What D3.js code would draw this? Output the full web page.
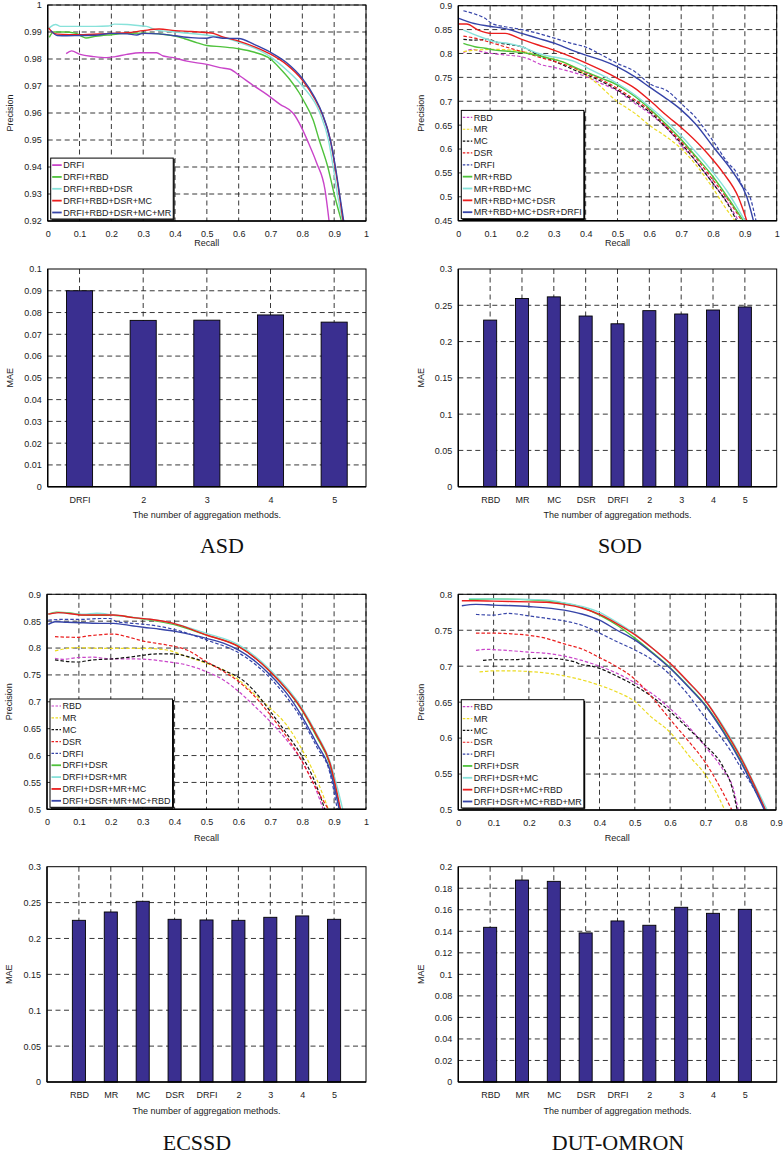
<!DOCTYPE html>
<html><head><meta charset="utf-8">
<script src="https://cdn.jsdelivr.net/npm/d3@7"></script>
<style>
body{margin:0;background:#fff}
svg{display:block}
</style>
</head><body>
<svg id="chart" width="784" height="1156"></svg>
<script>
// ---------------- DATA ----------------
// Tick values
const asdPrXTicks = [0,0.1,0.2,0.3,0.4,0.5,0.6,0.7,0.8,0.9,1];
const asdPrYTicks = [0.92,0.93,0.94,0.95,0.96,0.97,0.98,0.99,1];
const sodPrXTicks = [0,0.1,0.2,0.3,0.4,0.5,0.6,0.7,0.8,0.9,1];
const sodPrYTicks = [0.45,0.5,0.55,0.6,0.65,0.7,0.75,0.8,0.85,0.9];
const ecssdPrXTicks = [0,0.1,0.2,0.3,0.4,0.5,0.6,0.7,0.8,0.9,1];
const ecssdPrYTicks = [0.5,0.55,0.6,0.65,0.7,0.75,0.8,0.85,0.9];
const dutPrXTicks = [0,0.1,0.2,0.3,0.4,0.5,0.6,0.7,0.8,0.9];
const dutPrYTicks = [0.5,0.55,0.6,0.65,0.7,0.75,0.8];
const asdMaeTicks = [0,0.01,0.02,0.03,0.04,0.05,0.06,0.07,0.08,0.09,0.1];
const sodMaeTicks = [0,0.05,0.1,0.15,0.2,0.25,0.3];
const ecssdMaeTicks = [0,0.05,0.1,0.15,0.2,0.25,0.3];
const dutMaeTicks = [0,0.02,0.04,0.06,0.08,0.1,0.12,0.14,0.16,0.18,0.2];

// MAE bar data
const asdMaeCats = ["DRFI","2","3","4","5"];
const asdMae = [0.0900,0.0764,0.0765,0.0789,0.0756];
const maeCats = ["RBD","MR","MC","DSR","DRFI","2","3","4","5"];
const sodMae = [0.2296,0.2593,0.2616,0.2352,0.2245,0.2426,0.2380,0.2435,0.2477];
const ecssdMae = [0.2253,0.2369,0.2518,0.2267,0.2258,0.2253,0.2295,0.2314,0.2267];
const dutMae = [0.1437,0.1876,0.1864,0.1385,0.1496,0.1456,0.1623,0.1567,0.1604];

// ASD precision-recall [recall, precision]
const asd_DRFI = [[0.058,0.9820],[0.075,0.9830],[0.102,0.9817],[0.144,0.9809],[0.185,0.9805],[0.212,0.9809],[0.248,0.9817],[0.290,0.9823],[0.342,0.9823],[0.363,0.9811],[0.395,0.9805],[0.437,0.9792],[0.500,0.9780],[0.541,0.9768],[0.573,0.9762],[0.604,0.9737],[0.646,0.9702],[0.688,0.9669],[0.730,0.9632],[0.772,0.9598],[0.798,0.9545],[0.819,0.9490],[0.845,0.9415],[0.871,0.9317],[0.884,0.9200]];
const asd_RBD2 = [[0.005,0.9880],[0.018,0.9900],[0.05,0.9900],[0.09,0.9895],[0.105,0.9885],[0.12,0.9878],[0.15,0.9884],[0.2,0.9890],[0.25,0.9895],[0.3,0.9896],[0.35,0.9893],[0.4,0.9885],[0.43,0.9875],[0.47,0.9860],[0.5,0.9850],[0.55,0.9845],[0.6,0.9838],[0.65,0.9825],[0.7,0.9800],[0.73,0.9765],[0.76,0.9725],[0.79,0.9675],[0.803,0.9648],[0.834,0.9574],[0.853,0.9500],[0.880,0.9400],[0.900,0.9300],[0.923,0.9200]];
const asd_DSR3 = [[0.003,0.9912],[0.01,0.9920],[0.025,0.9928],[0.04,0.9921],[0.1,0.9921],[0.15,0.9921],[0.19,0.9922],[0.21,0.9929],[0.25,0.9928],[0.29,0.9923],[0.31,0.9921],[0.34,0.9908],[0.4,0.9900],[0.5,0.9888],[0.55,0.9880],[0.6,0.9862],[0.65,0.9840],[0.7,0.9808],[0.75,0.9760],[0.8,0.9700],[0.855,0.9600],[0.882,0.9500],[0.897,0.9400],[0.910,0.9300],[0.926,0.9200]];
const asd_MC4 = [[0.003,0.9915],[0.015,0.9898],[0.03,0.9892],[0.1,0.9890],[0.2,0.9895],[0.25,0.9897],[0.3,0.9905],[0.35,0.9911],[0.4,0.9905],[0.45,0.9902],[0.5,0.9898],[0.52,0.9895],[0.55,0.9882],[0.6,0.9866],[0.65,0.9845],[0.7,0.9818],[0.75,0.9780],[0.8,0.9722],[0.84,0.9650],[0.861,0.9600],[0.888,0.9500],[0.903,0.9400],[0.916,0.9300],[0.928,0.9200]];
const asd_MR5 = [[0.01,0.9905],[0.03,0.9887],[0.06,0.9886],[0.1,0.9887],[0.15,0.9888],[0.2,0.9895],[0.25,0.9893],[0.28,0.9889],[0.3,0.9895],[0.35,0.9893],[0.4,0.9886],[0.45,0.9879],[0.5,0.9877],[0.52,0.9882],[0.55,0.9877],[0.6,0.9876],[0.65,0.9853],[0.7,0.9825],[0.75,0.9787],[0.8,0.9728],[0.84,0.9655],[0.862,0.9600],[0.888,0.9500],[0.904,0.9400],[0.917,0.9300],[0.930,0.9200]];

// SOD precision-recall
const sod_RBD = [[0.016,0.8016],[0.042,0.8086],[0.073,0.804],[0.105,0.800],[0.147,0.797],[0.199,0.793],[0.23,0.786],[0.262,0.776],[0.293,0.772],[0.335,0.765],[0.387,0.755],[0.45,0.737],[0.5,0.722],[0.555,0.6955],[0.6,0.6746],[0.66,0.640],[0.7,0.608],[0.743,0.577],[0.8,0.528],[0.848,0.485],[0.88,0.45]];
const sod_MR = [[0.016,0.804],[0.052,0.807],[0.115,0.8086],[0.168,0.807],[0.22,0.8016],[0.272,0.793],[0.325,0.783],[0.377,0.765],[0.429,0.741],[0.5,0.699],[0.555,0.6746],[0.6,0.650],[0.66,0.6225],[0.7,0.601],[0.743,0.5695],[0.8,0.5176],[0.837,0.479],[0.869,0.45]];
const sod_MC = [[0.016,0.8295],[0.052,0.828],[0.094,0.8295],[0.126,0.8225],[0.168,0.818],[0.199,0.814],[0.251,0.797],[0.304,0.783],[0.366,0.765],[0.429,0.748],[0.5,0.7235],[0.555,0.699],[0.6,0.678],[0.66,0.640],[0.7,0.612],[0.743,0.577],[0.8,0.528],[0.848,0.483],[0.874,0.45]];
const sod_DSR = [[0.016,0.8365],[0.052,0.832],[0.094,0.8246],[0.147,0.814],[0.199,0.804],[0.251,0.793],[0.304,0.783],[0.366,0.769],[0.429,0.751],[0.5,0.727],[0.555,0.7025],[0.6,0.682],[0.66,0.643],[0.7,0.6155],[0.743,0.584],[0.8,0.535],[0.848,0.493],[0.89,0.45]];
const sod_DRFI = [[0.016,0.8895],[0.052,0.8826],[0.084,0.8735],[0.105,0.863],[0.147,0.856],[0.199,0.850],[0.251,0.842],[0.304,0.8316],[0.356,0.821],[0.398,0.814],[0.45,0.797],[0.5,0.779],[0.555,0.762],[0.6,0.737],[0.66,0.72],[0.7,0.695],[0.743,0.668],[0.8,0.617],[0.848,0.570],[0.874,0.55],[0.89,0.525],[0.916,0.5],[0.935,0.45]];
const sod_C2 = [[0.016,0.821],[0.052,0.814],[0.084,0.811],[0.115,0.807],[0.168,0.804],[0.22,0.800],[0.272,0.792],[0.325,0.783],[0.387,0.765],[0.45,0.748],[0.5,0.734],[0.555,0.710],[0.6,0.685],[0.66,0.647],[0.7,0.620],[0.743,0.587],[0.8,0.542],[0.848,0.497],[0.895,0.45]];
const sod_C3 = [[0.016,0.849],[0.042,0.842],[0.073,0.834],[0.115,0.8246],[0.157,0.821],[0.199,0.814],[0.251,0.800],[0.304,0.792],[0.366,0.783],[0.408,0.769],[0.45,0.755],[0.5,0.737],[0.555,0.713],[0.6,0.689],[0.66,0.654],[0.7,0.628],[0.743,0.596],[0.8,0.551],[0.848,0.508],[0.9,0.45]];
const sod_C4 = [[0.002,0.8616],[0.026,0.8616],[0.063,0.849],[0.105,0.842],[0.147,0.842],[0.199,0.8295],[0.251,0.8177],[0.304,0.806],[0.356,0.793],[0.398,0.781],[0.45,0.765],[0.5,0.748],[0.555,0.727],[0.6,0.7025],[0.66,0.667],[0.7,0.645],[0.77,0.600],[0.8,0.577],[0.832,0.55],[0.879,0.5],[0.906,0.45]];
const sod_C5 = [[0.002,0.8735],[0.042,0.864],[0.099,0.857],[0.147,0.852],[0.199,0.842],[0.251,0.8316],[0.304,0.821],[0.356,0.807],[0.398,0.797],[0.45,0.786],[0.5,0.772],[0.555,0.751],[0.6,0.730],[0.66,0.7025],[0.7,0.682],[0.743,0.654],[0.806,0.6],[0.864,0.55],[0.906,0.5],[0.927,0.45]];

// ECSSD precision-recall
const ecssd_RBD = [[0.025,0.781],[0.051,0.779],[0.093,0.782],[0.145,0.783],[0.197,0.780],[0.26,0.780],[0.312,0.779],[0.375,0.7747],[0.438,0.7685],[0.5,0.756],[0.553,0.7406],[0.601,0.719],[0.647,0.694],[0.7,0.663],[0.751,0.629],[0.8,0.5887],[0.835,0.5484],[0.866,0.5]];
const ecssd_MR = [[0.025,0.7946],[0.093,0.8008],[0.166,0.7995],[0.239,0.7995],[0.302,0.7995],[0.375,0.7964],[0.438,0.784],[0.5,0.7716],[0.563,0.756],[0.601,0.7406],[0.647,0.716],[0.7,0.688],[0.751,0.657],[0.8,0.6104],[0.835,0.570],[0.882,0.5]];
const ecssd_MC = [[0.025,0.778],[0.093,0.774],[0.145,0.778],[0.208,0.780],[0.271,0.784],[0.344,0.789],[0.396,0.789],[0.448,0.783],[0.5,0.773],[0.563,0.756],[0.601,0.7456],[0.647,0.722],[0.7,0.682],[0.751,0.641],[0.8,0.598],[0.835,0.5577],[0.871,0.5]];
const ecssd_DSR = [[0.025,0.8212],[0.093,0.820],[0.135,0.823],[0.208,0.826],[0.25,0.8212],[0.302,0.813],[0.375,0.8057],[0.438,0.7964],[0.5,0.7747],[0.563,0.753],[0.601,0.7375],[0.647,0.7127],[0.7,0.6755],[0.751,0.635],[0.8,0.5887],[0.835,0.5484],[0.882,0.5]];
const ecssd_DRFI = [[0.004,0.852],[0.062,0.8535],[0.114,0.8535],[0.166,0.855],[0.198,0.855],[0.218,0.849],[0.271,0.846],[0.323,0.843],[0.396,0.835],[0.5,0.815],[0.601,0.791],[0.7,0.744],[0.8,0.666],[0.845,0.617],[0.887,0.567],[0.91,0.5]];
const ecssd_C2 = [[0.004,0.863],[0.03,0.8665],[0.062,0.866],[0.114,0.8615],[0.166,0.861],[0.208,0.861],[0.271,0.8566],[0.323,0.852],[0.396,0.844],[0.5,0.824],[0.601,0.803],[0.7,0.756],[0.8,0.6836],[0.845,0.635],[0.887,0.5825],[0.918,0.5]];
const ecssd_C3 = [[0.004,0.863],[0.03,0.866],[0.114,0.8628],[0.156,0.8647],[0.208,0.8616],[0.271,0.857],[0.323,0.8535],[0.396,0.846],[0.5,0.8274],[0.601,0.806],[0.7,0.759],[0.8,0.688],[0.845,0.641],[0.887,0.589],[0.927,0.5]];
const ecssd_C4 = [[0.004,0.863],[0.036,0.866],[0.114,0.8615],[0.208,0.8616],[0.271,0.8566],[0.323,0.8535],[0.396,0.846],[0.5,0.8243],[0.601,0.8026],[0.7,0.756],[0.8,0.685],[0.845,0.638],[0.887,0.5856],[0.92,0.5]];
const ecssd_C5 = [[0.004,0.844],[0.025,0.849],[0.062,0.848],[0.114,0.847],[0.166,0.846],[0.208,0.846],[0.271,0.841],[0.302,0.8386],[0.354,0.835],[0.406,0.8305],[0.459,0.824],[0.5,0.818],[0.553,0.809],[0.601,0.796],[0.647,0.778],[0.7,0.75],[0.751,0.716],[0.8,0.672],[0.845,0.623],[0.887,0.573],[0.916,0.5]];

// DUT-OMRON precision-recall
const dut_RBD = [[0.05,0.722],[0.08,0.7235],[0.1,0.723],[0.15,0.7215],[0.2,0.7195],[0.25,0.718],[0.3,0.714],[0.35,0.708],[0.4,0.700],[0.45,0.690],[0.5,0.677],[0.55,0.6615],[0.6,0.641],[0.65,0.617],[0.7,0.588],[0.75,0.556],[0.78,0.528],[0.793,0.5]];
const dut_MR = [[0.06,0.692],[0.1,0.6935],[0.15,0.6935],[0.2,0.6925],[0.25,0.6905],[0.3,0.6865],[0.35,0.681],[0.4,0.6735],[0.45,0.664],[0.5,0.651],[0.543,0.631],[0.6,0.608],[0.656,0.574],[0.70,0.549],[0.732,0.523],[0.755,0.5]];
const dut_MC = [[0.07,0.708],[0.1,0.709],[0.15,0.709],[0.2,0.7105],[0.25,0.711],[0.28,0.7105],[0.3,0.709],[0.33,0.706],[0.35,0.702],[0.37,0.701],[0.4,0.697],[0.45,0.686],[0.5,0.673],[0.55,0.657],[0.6,0.637],[0.65,0.614],[0.7,0.59],[0.75,0.56],[0.775,0.532],[0.79,0.5]];
const dut_DSR = [[0.05,0.746],[0.1,0.746],[0.15,0.745],[0.2,0.743],[0.25,0.7385],[0.3,0.731],[0.35,0.724],[0.4,0.712],[0.45,0.699],[0.5,0.682],[0.55,0.656],[0.6,0.626],[0.65,0.597],[0.7,0.566],[0.74,0.533],[0.775,0.5]];
const dut_DRFI = [[0.05,0.772],[0.1,0.771],[0.14,0.7735],[0.2,0.770],[0.25,0.7666],[0.3,0.763],[0.35,0.757],[0.4,0.746],[0.45,0.734],[0.5,0.7226],[0.55,0.7085],[0.6,0.688],[0.65,0.661],[0.7,0.628],[0.77,0.5835],[0.8,0.559],[0.845,0.5232],[0.869,0.5]];
const dut_C2 = [[0.03,0.793],[0.1,0.7935],[0.2,0.7925],[0.3,0.7875],[0.35,0.782],[0.4,0.771],[0.45,0.757],[0.5,0.739],[0.55,0.719],[0.6,0.698],[0.65,0.673],[0.7,0.646],[0.75,0.611],[0.8,0.569],[0.84,0.530],[0.87,0.5]];
const dut_C3 = [[0.03,0.794],[0.1,0.7935],[0.2,0.793],[0.25,0.792],[0.3,0.788],[0.35,0.783],[0.4,0.775],[0.45,0.761],[0.5,0.745],[0.55,0.725],[0.6,0.703],[0.65,0.678],[0.7,0.652],[0.75,0.617],[0.8,0.575],[0.84,0.535],[0.875,0.5]];
const dut_C4 = [[0.01,0.791],[0.05,0.791],[0.1,0.7905],[0.2,0.7895],[0.25,0.789],[0.3,0.786],[0.35,0.781],[0.4,0.772],[0.45,0.759],[0.5,0.744],[0.55,0.725],[0.6,0.704],[0.65,0.679],[0.7,0.652],[0.75,0.615],[0.8,0.573],[0.84,0.533],[0.87,0.5]];
const dut_C5 = [[0.01,0.784],[0.05,0.786],[0.1,0.785],[0.2,0.783],[0.3,0.778],[0.35,0.7726],[0.4,0.764],[0.45,0.750],[0.5,0.7365],[0.55,0.718],[0.6,0.697],[0.65,0.672],[0.7,0.645],[0.75,0.609],[0.8,0.567],[0.84,0.528],[0.867,0.5]];

// Legend labels
const asdLabels = ["DRFI","DRFI+RBD","DRFI+RBD+DSR","DRFI+RBD+DSR+MC","DRFI+RBD+DSR+MC+MR"];
const sodLabels = ["RBD","MR","MC","DSR","DRFI","MR+RBD","MR+RBD+MC","MR+RBD+MC+DSR","MR+RBD+MC+DSR+DRFI"];
const ecssdLabels = ["RBD","MR","MC","DSR","DRFI","DRFI+DSR","DRFI+DSR+MR","DRFI+DSR+MR+MC","DRFI+DSR+MR+MC+RBD"];
const dutLabels = ["RBD","MR","MC","DSR","DRFI","DRFI+DSR","DRFI+DSR+MC","DRFI+DSR+MC+RBD","DRFI+DSR+MC+RBD+MR"];
const captions = ["ASD","SOD","ECSSD","DUT-OMRON"];

// ---------------- STYLE ----------------
const C = {mag:"#c944c9", yel:"#ecdc24", blk:"#111111", red:"#ea1e1e", blu:"#3644a8", grn:"#4fc23c", cyn:"#88e2da"};
const FONT = "'Liberation Sans', Arial, Helvetica, sans-serif";
const GRID_DASH = "5,3.5";
const BAR_FILL = "#3a2f90";

const svg = d3.select("#chart");
svg.append("rect").attr("width",784).attr("height",1156).attr("fill","#fff");

const fmt = d => String(+d.toFixed(4));

function frame(g, L, T, R, B){
  g.append("rect").attr("x",L).attr("y",T).attr("width",R-L).attr("height",B-T)
    .attr("fill","none").attr("stroke","#000").attr("stroke-width",1);
  g.append("line").attr("x1",L).attr("x2",R).attr("y1",B).attr("y2",B).attr("stroke","#000").attr("stroke-width",1.6);
  g.append("line").attr("x1",L).attr("x2",L).attr("y1",T).attr("y2",B).attr("stroke","#000").attr("stroke-width",1.4);
}

function styleAxisText(ax){
  ax.attr("font-family",FONT).attr("font-size",9);
  ax.select(".domain").remove();
  ax.selectAll("text").attr("fill","#222");
}

function yAxisTitle(g, L, T, B, label){
  g.append("text").attr("transform",`translate(${L-37.7},${(T+B)/2}) rotate(-90)`)
    .attr("text-anchor","middle").attr("dy","0.35em").attr("font-family",FONT).attr("font-size",9)
    .attr("fill","#222").text(label);
}

function drawPR(cfg){
  const {L,T,R,B,xDom,yDom,xTicks,yTicks,series,xTitleOff,id} = cfg;
  const g = svg.append("g");
  const x = d3.scaleLinear().domain(xDom).range([L,R]);
  const y = d3.scaleLinear().domain(yDom).range([B,T]);
  // grid
  g.append("g").selectAll("line").data(xTicks.slice(1)).join("line")
    .attr("x1",d=>x(d)).attr("x2",d=>x(d)).attr("y1",T).attr("y2",B)
    .attr("stroke","#222").attr("stroke-width",0.9).attr("stroke-dasharray",GRID_DASH);
  g.append("g").selectAll("line").data(yTicks.slice(1)).join("line")
    .attr("x1",L).attr("x2",R).attr("y1",d=>y(d)).attr("y2",d=>y(d))
    .attr("stroke","#222").attr("stroke-width",0.9).attr("stroke-dasharray",GRID_DASH);
  // curves
  const clipId = "clip"+id;
  svg.append("clipPath").attr("id",clipId).append("rect").attr("x",L).attr("y",T).attr("width",R-L).attr("height",B-T);
  const line = d3.line().x(d=>x(d[0])).y(d=>y(d[1])).curve(d3.curveMonotoneX);
  const cg = g.append("g").attr("clip-path",`url(#${clipId})`);
  series.forEach(s=>{
    cg.append("path").attr("d",line(s.data)).attr("fill","none").attr("stroke",s.color)
      .attr("stroke-width",s.dash?1.2:1.4).attr("stroke-dasharray",s.dash?"3.5,2":null)
      .attr("stroke-linejoin","round");
  });
  frame(g,L,T,R,B);
  // axes
  const ax = g.append("g").attr("transform",`translate(0,${B})`)
    .call(d3.axisBottom(x).tickValues(xTicks).tickFormat(fmt).tickSize(0));
  styleAxisText(ax);
  ax.selectAll("text").attr("y",12.8).attr("dy","0.35em");
  const ay = g.append("g").attr("transform",`translate(${L},0)`)
    .call(d3.axisLeft(y).tickValues(yTicks).tickFormat(fmt).tickSize(0).tickPadding(6));
  styleAxisText(ay);
  g.append("text").attr("x",(L+R)/2).attr("y",B+xTitleOff).attr("dy","0.35em")
    .attr("text-anchor","middle").attr("font-family",FONT).attr("font-size",9).attr("fill","#222").text("Recall");
  yAxisTitle(g,L,T,B,"Precision");
  // legend
  const sp = 11.85;
  const n = series.length;
  const h = (n-1)*sp + 13.5;
  const lx = L+3, ly = B-2-h;
  const lg = g.append("g");
  const box = lg.append("rect").attr("x",lx).attr("y",ly).attr("height",h).attr("fill","#fff")
    .attr("stroke","#000").attr("stroke-width",1);
  let maxW = 0;
  series.forEach((s,i)=>{
    const cy = ly + 7 + i*sp;
    lg.append("line").attr("x1",lx+1.5).attr("x2",lx+11).attr("y1",cy).attr("y2",cy)
      .attr("stroke",s.color).attr("stroke-width",s.dash?1.2:1.8).attr("stroke-dasharray",s.dash?"2.5,1.5":null);
    const t = lg.append("text").attr("x",lx+12.5).attr("y",cy).attr("dy","0.35em")
      .attr("font-family",FONT).attr("font-size",9).attr("fill","#222").text(s.label);
    maxW = Math.max(maxW, t.node().getComputedTextLength());
  });
  const bw = maxW + 14.5;
  box.attr("width",bw);
  lg.append("line").attr("x1",lx+bw+0.8).attr("x2",lx+bw+0.8).attr("y1",ly+1).attr("y2",ly+h+0.8).attr("stroke","#000").attr("stroke-width",1.2);
  lg.append("line").attr("x1",lx+1).attr("x2",lx+bw+0.8).attr("y1",ly+h+0.8).attr("y2",ly+h+0.8).attr("stroke","#000").attr("stroke-width",1.2);
}

function drawBars(cfg){
  const {L,T,R,B,xDom,yTicks,cats,vals} = cfg;
  const g = svg.append("g");
  const x = d3.scaleLinear().domain(xDom).range([L,R]);
  const y = d3.scaleLinear().domain([0,yTicks[yTicks.length-1]]).range([B,T]);
  const pos = cats.map((c,i)=>i+1);
  g.append("g").selectAll("line").data(yTicks.slice(1,-1)).join("line")
    .attr("x1",L).attr("x2",R).attr("y1",d=>y(d)).attr("y2",d=>y(d))
    .attr("stroke","#222").attr("stroke-width",0.9).attr("stroke-dasharray",GRID_DASH);
  g.append("g").selectAll("line").data(pos).join("line")
    .attr("x1",d=>x(d)).attr("x2",d=>x(d)).attr("y1",T).attr("y2",B)
    .attr("stroke","#222").attr("stroke-width",0.9).attr("stroke-dasharray",GRID_DASH);
  const bw = (x(1)-x(0))*0.41;
  g.append("g").selectAll("rect").data(vals).join("rect")
    .attr("x",(d,i)=>x(pos[i])-bw/2).attr("width",bw)
    .attr("y",d=>y(d)).attr("height",d=>B-y(d))
    .attr("fill",BAR_FILL).attr("stroke","#000").attr("stroke-width",0.9);
  frame(g,L,T,R,B);
  const ax = g.append("g").attr("transform",`translate(0,${B})`)
    .call(d3.axisBottom(x).tickValues(pos).tickFormat((d,i)=>cats[i]).tickSize(0));
  styleAxisText(ax);
  ax.selectAll("text").attr("y",12.8).attr("dy","0.35em");
  const ay = g.append("g").attr("transform",`translate(${L},0)`)
    .call(d3.axisLeft(y).tickValues(yTicks).tickFormat(fmt).tickSize(0).tickPadding(6));
  styleAxisText(ay);
  g.append("text").attr("x",(L+R)/2).attr("y",B+28.5).attr("dy","0.35em")
    .attr("text-anchor","middle").attr("font-family",FONT).attr("font-size",9).attr("fill","#222")
    .text("The number of aggregation methods.");
  yAxisTitle(g,L,T,B,"MAE");
}

const S = (data,color,label,dash)=>({data,color,label,dash});

drawPR({id:1,L:47.7,T:5,R:366,B:221,xDom:[0,1],yDom:[0.92,1],xTicks:asdPrXTicks,yTicks:asdPrYTicks,xTitleOff:22,
  series:[S(asd_DRFI,C.mag,asdLabels[0]),S(asd_RBD2,C.grn,asdLabels[1]),S(asd_DSR3,C.cyn,asdLabels[2]),S(asd_MC4,C.red,asdLabels[3]),S(asd_MR5,C.blu,asdLabels[4])]});

drawPR({id:2,L:458.3,T:5.7,R:776.7,B:220.7,xDom:[0,1],yDom:[0.45,0.9],xTicks:sodPrXTicks,yTicks:sodPrYTicks,xTitleOff:22,
  series:[S(sod_RBD,C.mag,sodLabels[0],true),S(sod_MR,C.yel,sodLabels[1],true),S(sod_MC,C.blk,sodLabels[2],true),S(sod_DSR,C.red,sodLabels[3],true),S(sod_DRFI,C.blu,sodLabels[4],true),
          S(sod_C2,C.grn,sodLabels[5]),S(sod_C3,C.cyn,sodLabels[6]),S(sod_C4,C.red,sodLabels[7]),S(sod_C5,C.blu,sodLabels[8])]});

drawPR({id:3,L:47,T:594.3,R:366,B:809.3,xDom:[0,1],yDom:[0.5,0.9],xTicks:ecssdPrXTicks,yTicks:ecssdPrYTicks,xTitleOff:28.4,
  series:[S(ecssd_RBD,C.mag,ecssdLabels[0],true),S(ecssd_MR,C.yel,ecssdLabels[1],true),S(ecssd_MC,C.blk,ecssdLabels[2],true),S(ecssd_DSR,C.red,ecssdLabels[3],true),S(ecssd_DRFI,C.blu,ecssdLabels[4],true),
          S(ecssd_C2,C.grn,ecssdLabels[5]),S(ecssd_C3,C.cyn,ecssdLabels[6]),S(ecssd_C4,C.red,ecssdLabels[7]),S(ecssd_C5,C.blu,ecssdLabels[8])]});

drawPR({id:4,L:458.3,T:594.3,R:776,B:810,xDom:[0,0.9],yDom:[0.5,0.8],xTicks:dutPrXTicks,yTicks:dutPrYTicks,xTitleOff:28,
  series:[S(dut_RBD,C.mag,dutLabels[0],true),S(dut_MR,C.yel,dutLabels[1],true),S(dut_MC,C.blk,dutLabels[2],true),S(dut_DSR,C.red,dutLabels[3],true),S(dut_DRFI,C.blu,dutLabels[4],true),
          S(dut_C2,C.grn,dutLabels[5]),S(dut_C3,C.cyn,dutLabels[6]),S(dut_C4,C.red,dutLabels[7]),S(dut_C5,C.blu,dutLabels[8])]});

drawBars({L:47.7,T:269,R:366,B:486.7,xDom:[0.5,5.5],yTicks:asdMaeTicks,cats:asdMaeCats,vals:asdMae});
drawBars({L:458.3,T:269,R:776.7,B:486.7,xDom:[0,10],yTicks:sodMaeTicks,cats:maeCats,vals:sodMae});
drawBars({L:47,T:866.7,R:366,B:1082,xDom:[0,10],yTicks:ecssdMaeTicks,cats:maeCats,vals:ecssdMae});
drawBars({L:458.3,T:866.7,R:776.7,B:1082,xDom:[0,10],yTicks:dutMaeTicks,cats:maeCats,vals:dutMae});

// captions
const capPos = [[222,553],[620,553],[197,1150],[618,1150]];
svg.append("g").selectAll("text").data(captions).join("text")
  .attr("x",(d,i)=>capPos[i][0]).attr("y",(d,i)=>capPos[i][1])
  .attr("text-anchor","middle").attr("font-family","'Liberation Serif','Times New Roman',serif")
  .attr("font-size",22).attr("fill","#111").text(d=>d);
</script>
</body></html>
